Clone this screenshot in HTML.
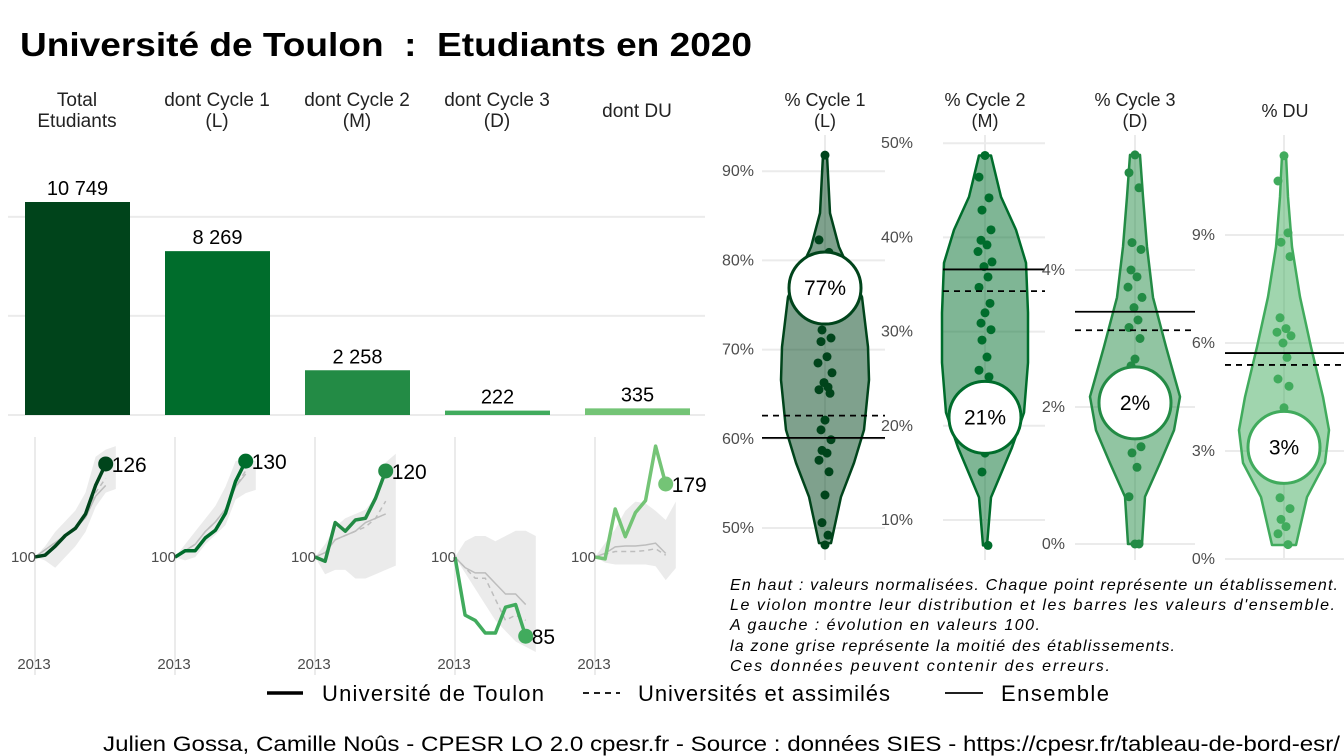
<!DOCTYPE html>
<html><head><meta charset="utf-8"><style>
body{margin:0;background:#fff}
svg{display:block;font-family:"Liberation Sans",sans-serif}
</style></head><body>
<svg id="c" width="1344" height="756" viewBox="0 0 1344 756">
<text x="20" y="56" font-size="33" font-weight="bold" fill="#000" textLength="732" lengthAdjust="spacingAndGlyphs">Université de Toulon&#160;&#160;:&#160;&#160;Etudiants en 2020</text>
<g id="heads"></g>
<g id="bars"></g>
<g id="multiples"></g>
<g id="violins"></g>
<g font-size="16" font-style="italic" fill="#000" lengthAdjust="spacingAndGlyphs">
<text x="730" y="590" textLength="608">En haut : valeurs normalisées. Chaque point représente un établissement.</text>
<text x="730" y="610" textLength="605">Le violon montre leur distribution et les barres les valeurs d'ensemble.</text>
<text x="730" y="630" textLength="310">A gauche : évolution en valeurs 100.</text>
<text x="730" y="651" textLength="445">la zone grise représente la moitié des établissements.</text>
<text x="730" y="671" textLength="380">Ces données peuvent contenir des erreurs.</text>
</g>
<g font-size="22">
<line x1="267" y1="693" x2="303" y2="693" stroke="#000" stroke-width="3.5"/>
<text x="322" y="701" textLength="222">Université de Toulon</text>
<line x1="583" y1="693" x2="620" y2="693" stroke="#000" stroke-width="1.8" stroke-dasharray="6,5"/>
<text x="638" y="701" textLength="252">Universités et assimilés</text>
<line x1="945" y1="693" x2="983" y2="693" stroke="#000" stroke-width="1.8"/>
<text x="1001" y="701" textLength="108">Ensemble</text>
</g>
<text x="103" y="751" font-size="21" fill="#000" textLength="1237" lengthAdjust="spacingAndGlyphs">Julien Gossa, Camille Noûs - CPESR LO 2.0 cpesr.fr - Source : données SIES - https://cpesr.fr/tableau-de-bord-esr/</text>
</svg>
<script>
const barCategories=["Total\nEtudiants","dont Cycle 1\n(L)","dont Cycle 2\n(M)","dont Cycle 3\n(D)","dont DU"];
const barValues=[10749,8269,2258,222,335];
const barLabels=["10 749","8 269","2 258","222","335"];
const colors=["#00441b","#006d2c","#238b45","#41ab5d","#74c476"];
const years=[2013,2014,2015,2016,2017,2018,2019,2020,2021];
const univSeries=[[100,100.5,103,106,108,112,120,126],[100,102,102,106,108.4,113.7,123.7,130],[100,99,108,106,108.6,109,113.7,120],[100,89,88,85.6,85.6,90.5,91,85],[100,98,152,122,148,161,220,179]];
const endLabels=["126","130","120","85","179"];
const ensSeries=[[100,102,104,106,108,111,117,120],[100,102,104,108,111,115,122,126],[100,101,104,105,106,108,109,110],[100,98,97,97,95,93,93,91],[100,104,111,112,112,113,115,104]];
const univAssimSeries=[[100,102,104,106,108,112,118,122],[100,102,104,108,111,115,122,127],[100,101,104,105,106,107,109,113],[100,98,96,96,92,88,89,88],[100,103,106,106,106,107,109,102]];
const bandLo=[[100,99,97,100,103,107,114,118,119],[100,99,100,104,107,110,118,120,121],[100,96,97,97,95,95,96,97,98],[100,97,94,91,88,86,84,83,82],[100,94,92,92,92,92,90,75,88]];
const bandHi=[[100,103,107,110,113,118,128,130,131],[100,104,108,112,116,122,130,131,130],[100,103,107,109,110,111,114,122,124],[100,103,104,104,103,104,105,105,104],[100,115,130,150,160,158,150,140,160]];
const panelDomains=[[65.6,132.7],[61.6,136.6],[71.4,127.2],[76.7,122.2],[-33,226.6]];

const violinTitles=["% Cycle 1\n(L)","% Cycle 2\n(M)","% Cycle 3\n(D)","% DU"];
const violinTicks=[[50,60,70,80,90],[10,20,30,40,50],[0,2,4],[0,3,6,9]];
const shapeVals=[[91.8,85.3,81.5,75.9,70.3,66.6,61,57.3,53.5,48.3],[48.7,44.3,40.8,37.3,32,26.7,21.4,17.7,12.4,7.3],[5.68,5.07,4.34,3.6,2.88,2.15,1.66,1.18,0.69,0],[11.22,10.06,8.67,7.28,5.89,4.5,3.58,2.67,1.72,0.39]];
const shapeDens=[[2,5,14,37,43,44,39,29,16,6],[6,16,31,41,43,43,39,27,6,2],[5,8,12,18,31,45,39,25,10,7],[2,4,8,16,27,39,45,41,23,12]];
const pointVals=[[91.8,82.3,80.9,72.2,71.3,70.9,69.2,68.5,67.4,66.3,65.8,65.5,65.1,62.1,61,59.9,58.7,58.4,57.6,56.3,53.7,50.6,49.2,48.1],
[48.7,46.4,44.2,42.9,40.8,39.7,39.2,38.5,37.4,36.9,35.8,34.7,33,32,30.9,30.2,29.1,27.3,25.9,25.2,17.1,15.1,7.3],
[5.68,5.42,5.2,4.4,4.3,4.0,3.9,3.75,3.6,3.45,3.27,3.16,3.0,2.7,2.6,1.42,1.33,1.12,0.69,0,0],
[11.2,10.5,9.06,8.8,8.4,6.7,6.4,6.3,6.2,6.0,5.6,5.0,4.8,4.2,1.7,1.4,1.1,0.9,0.7,0.4]];
const univValues=[76.9,20.9,2.06,3.1];
const univLabels=["77%","21%","2%","3%"];
const ensValues=[60.1,36.6,3.39,5.72];
const assimValues=[62.6,34.3,3.12,5.39];

const NS="http://www.w3.org/2000/svg";
function mk(tag,attrs,parent){const e=document.createElementNS(NS,tag);for(const k in attrs)e.setAttribute(k,attrs[k]);parent.appendChild(e);return e;}
function txt(parent,x,y,s,attrs){const t=mk('text',Object.assign({x:x,y:y},attrs||{}),parent);t.textContent=s;return t;}

const heads=document.getElementById('heads');
barCategories.forEach((c,i)=>{const lines=c.split("\n");const cx=77+i*140;
 lines.forEach((l,j)=>{const t=txt(heads,cx,lines.length==1?117:106+j*21,l,{"font-size":19,"text-anchor":"middle",fill:"#222"});
 });});
violinTitles.forEach((c,i)=>{const lines=c.split("\n");const cx=[825,985,1135,1285][i];
 lines.forEach((l,j)=>{const t=txt(heads,cx,lines.length==1?117:106+j*21,l,{"font-size":18,"text-anchor":"middle",fill:"#222"});
 });});

const bars=document.getElementById('bars');
const yBar=v=>415-v*(213/10749);
[0,5000,10000].forEach(v=>{const l=mk('line',{x1:8,x2:705,y1:yBar(v),y2:yBar(v),stroke:"#ebebeb","stroke-width":2},bars);
 });
barValues.forEach((v,i)=>{const x=25+i*140;
 const r=mk('rect',{x:x,y:yBar(v),width:105,height:415-yBar(v),fill:colors[i]},bars);
 
 const t=txt(bars,x+52.5,yBar(v)-7,barLabels[i],{"font-size":20,"text-anchor":"middle",fill:"#000"});
 });

const mg=document.getElementById('multiples');
univSeries.forEach((s,p)=>{const base=35+p*140;const [d0,d1]=panelDomains[p];
 const X=yr=>base+(yr-2013)*10.1;const Y=v=>680-(v-d0)/(d1-d0)*240;
 const g=mk('g',{},mg);
 mk('line',{x1:base,x2:base,y1:437,y2:675,stroke:"#ebebeb","stroke-width":2},g);
 let pts=years.map((yr,i)=>X(yr)+','+Y(bandHi[p][i])).concat(years.slice().reverse().map((yr,k)=>X(yr)+','+Y(bandLo[p][years.length-1-k])));
 const band=mk('polygon',{points:pts.join(' '),fill:"#ebebeb"},g);
 const e=mk('polyline',{points:ensSeries[p].map((v,i)=>X(years[i])+','+Y(v)).join(' '),fill:"none",stroke:"#bdbdbd","stroke-width":1.5},g);
 
 const a=mk('polyline',{points:univAssimSeries[p].map((v,i)=>X(years[i])+','+Y(v)).join(' '),fill:"none",stroke:"#bdbdbd","stroke-width":1.5,"stroke-dasharray":"5,4"},g);
 
 const u=mk('polyline',{points:s.map((v,i)=>X(years[i])+','+Y(v)).join(' '),fill:"none",stroke:colors[p],"stroke-width":3.5,"stroke-linejoin":"round"},g);
 
 const n=s.length-1;
 const c=mk('circle',{cx:X(years[n]),cy:Y(s[n]),r:7.5,fill:colors[p]},g);
 const t=txt(g,X(years[n])+6,Y(s[n])+8,endLabels[p],{"font-size":21,fill:"#000"});
 const t1=txt(g,base+1,562,"100",{"font-size":15,"text-anchor":"end",fill:"#4d4d4d"});
 const t2=txt(g,base-1,669,"2013",{"font-size":15,"text-anchor":"middle",fill:"#4d4d4d"});
});

const vg=document.getElementById('violins');
const vCfg=[{cx:825,gx0:762,gx1:885,lx:754,y0:528,v0:50,s:8.92},{cx:985,gx0:943,gx1:1045,lx:913,y0:520,v0:10,s:9.42},{cx:1135,gx0:1075,gx1:1195,lx:1065,y0:544,v0:0,s:68.5},{cx:1284,gx0:1225,gx1:1344,lx:1215,y0:559,v0:0,s:36}];
const jit=[0,-6,4,-3,6,-4,2,-7,7,-1,3,-6,5,0,-4,6,-3,2,-6,4,0,-3,3,0,1];
vCfg.forEach((c,i)=>{const Y=v=>c.y0-(v-c.v0)*c.s;
 const g=mk('g',{},vg);
 mk('line',{x1:c.cx,x2:c.cx,y1:135,y2:560,stroke:"#ebebeb","stroke-width":2},g);
 violinTicks[i].forEach(t=>{mk('line',{x1:c.gx0,x2:c.gx1,y1:Y(t),y2:Y(t),stroke:"#ebebeb","stroke-width":2},g);
  const tl=txt(g,c.lx,Y(t)+5,t+"%",{"font-size":16,"text-anchor":"end",fill:"#4d4d4d"});});
 const sv=shapeVals[i],sd=shapeDens[i];
 let d="M"+(c.cx+sd[0])+","+Y(sv[0]);
 for(let k=1;k<sv.length;k++)d+=" L"+(c.cx+sd[k])+","+Y(sv[k]);
 for(let k=sv.length-1;k>=0;k--)d+=" L"+(c.cx-sd[k])+","+Y(sv[k]);
 d+="Z";
 const vp=mk('path',{d:d,fill:colors[i],"fill-opacity":0.5,stroke:colors[i],"stroke-width":2.5,"stroke-linejoin":"round"},g);
 
 pointVals[i].forEach((v,k)=>{const p=mk('circle',{cx:c.cx+jit[k%jit.length],cy:Y(v),r:4.5,fill:colors[i]},g);
  });
 const le=mk('line',{x1:c.gx0,x2:c.gx1,y1:Y(ensValues[i]),y2:Y(ensValues[i]),stroke:"#000","stroke-width":1.8},g);
 
 const la=mk('line',{x1:c.gx0,x2:c.gx1,y1:Y(assimValues[i]),y2:Y(assimValues[i]),stroke:"#000","stroke-width":1.8,"stroke-dasharray":"6,5"},g);
 
 const uc=mk('circle',{cx:c.cx,cy:Y(univValues[i]),r:36,fill:"#fff",stroke:colors[i],"stroke-width":3},g);
 
 const ut=txt(g,c.cx,Y(univValues[i])+7,univLabels[i],{"font-size":21,"text-anchor":"middle",fill:"#000"});
 
});
</script>
</body></html>
